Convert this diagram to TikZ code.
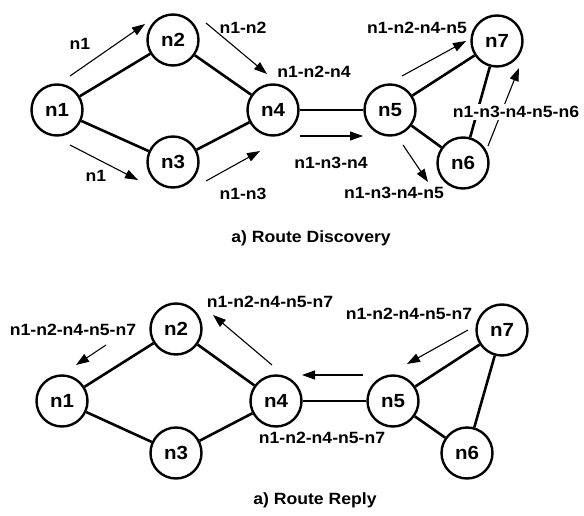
\documentclass[tikz,border=0pt]{standalone}
\usepackage{fontspec}
\setmainfont[FakeStretch=1.08]{Liberation Sans}
\usetikzlibrary{arrows.meta}
\begin{document}
\begin{tikzpicture}[x=1pt,y=-1pt,
 nd/.style={circle,draw,line width=2.4pt,minimum size=51pt,inner sep=0pt,font=\fontsize{19}{19}\selectfont\bfseries},
 ed/.style={line width=2.6pt},
 ar/.style={line width=1.1pt,-{Triangle[length=13pt,width=9pt]}},
 lb/.style={font=\fontsize{16.3}{16.3}\selectfont\bfseries,inner sep=1pt},
 captxt/.style={font=\fontsize{16.3}{16.3}\selectfont\bfseries,inner sep=0pt,anchor=base}]
\useasboundingbox (0,0) rectangle (584,516);
% ---------- top: route discovery ----------
\node[nd] (a1) at (57,110) {n1};
\node[nd] (a2) at (173,40) {n2};
\node[nd] (a3) at (173,162) {n3};
\node[nd] (a4) at (273,110) {n4};
\node[nd] (a5) at (390,110) {n5};
\node[nd] (a6) at (463,163) {n6};
\node[nd] (a7) at (497,41) {n7};
\draw[ed] (a1) -- (a2);
\draw[ed] (a1) -- (a3);
\draw[ed] (a2) -- (a4);
\draw[ed] (a3) -- (a4);
\draw[ed] (a4) -- (a5);
\draw[ed] (a5) -- (a7);
\draw[ed] (a5) -- (a6);
\draw[ed] (a6) -- (a7);
\coordinate (p1s) at (70,76);   \coordinate (p1e) at (145,24);
\coordinate (p2s) at (70,145);  \coordinate (p2e) at (138,180);
\coordinate (p3s) at (206,23);  \coordinate (p3e) at (267,74);
\coordinate (p4s) at (206,181); \coordinate (p4e) at (260,151);
\coordinate (p5s) at (300,136); \coordinate (p5e) at (363,136);
\coordinate (p6s) at (402,76);  \coordinate (p6e) at (466,41);
\coordinate (p7s) at (403,145); \coordinate (p7e) at (428,182);
\coordinate (p8s) at (488,146); \coordinate (p8e) at (519,68);
\draw[ar] (p1s) -- (p1e);
\draw[ar] (p2s) -- (p2e);
\draw[ar] (p3s) -- (p3e);
\draw[ar] (p4s) -- (p4e);
\draw[ar] (p5s) -- (p5e);
\draw[ar] (p6s) -- (p6e);
\draw[ar] (p7s) -- (p7e);
\draw[ar] (p8s) -- (p8e);
\node[lb] (l1) at (80,44) {n1};
\node[lb] (l2) at (96,176) {n1};
\node[lb] (l3) at (243,28) {n1-n2};
\node[lb] (l4) at (314,72) {n1-n2-n4};
\node[lb] (l5) at (243,194) {n1-n3};
\node[lb] (l6) at (331,163) {n1-n3-n4};
\node[lb] (l7) at (417,28) {n1-n2-n4-n5};
\node[lb] (l8) at (394,193) {n1-n3-n4-n5};
\node[lb,fill=white,inner sep=2pt] (l9) at (516,112) {n1-n3-n4-n5-n6};
\node[captxt] (c1) at (311,242) {a) Route Discovery};
% ---------- bottom: route reply ----------
\node[nd] (b1) at (62,401) {n1};
\node[nd] (b2) at (176,329) {n2};
\node[nd] (b3) at (176,453) {n3};
\node[nd] (b4) at (276,401) {n4};
\node[nd] (b5) at (393,401) {n5};
\node[nd] (b6) at (467,453) {n6};
\node[nd] (b7) at (502,330) {n7};
\draw[ed] (b1) -- (b2);
\draw[ed] (b1) -- (b3);
\draw[ed] (b2) -- (b4);
\draw[ed] (b3) -- (b4);
\draw[ed] (b4) -- (b5);
\draw[ed] (b5) -- (b7);
\draw[ed] (b5) -- (b6);
\draw[ed] (b6) -- (b7);
\coordinate (q1s) at (272,365); \coordinate (q1e) at (213,315);
\coordinate (q2s) at (106,345); \coordinate (q2e) at (76,365);
\coordinate (q3s) at (363,375); \coordinate (q3e) at (302,375);
\coordinate (q4s) at (468,330); \coordinate (q4e) at (407,364);
\draw[ar] (q1s) -- (q1e);
\draw[ar] (q2s) -- (q2e);
\draw[ar] (q3s) -- (q3e);
\draw[ar] (q4s) -- (q4e);
\node[lb] (m1) at (73,330) {n1-n2-n4-n5-n7};
\node[lb] (m2) at (270,302) {n1-n2-n4-n5-n7};
\node[lb] (m3) at (409,314) {n1-n2-n4-n5-n7};
\node[lb] (m4) at (322,438) {n1-n2-n4-n5-n7};
\node[captxt] (c2) at (315,504) {a) Route Reply};
\end{tikzpicture}
\end{document}
